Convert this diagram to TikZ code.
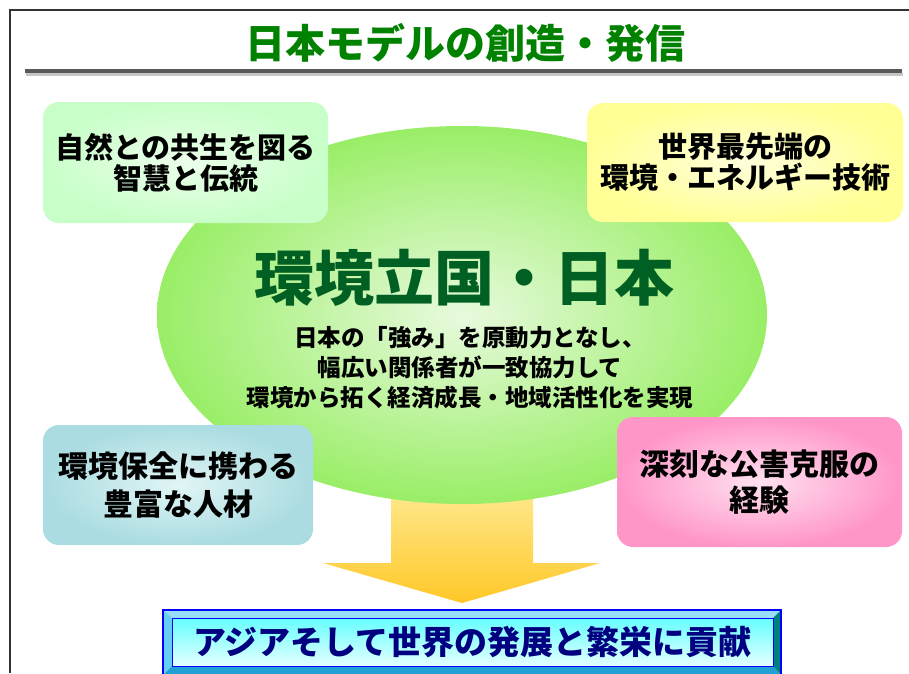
\documentclass[tikz,border=0pt]{standalone}
\usepackage{fontspec}
\setmainfont{Noto Sans CJK JP}
\usetikzlibrary{shapes}

\definecolor{titlegreen}{RGB}{0,130,0}
\definecolor{deepgreen}{RGB}{0,95,35}
\definecolor{ellgreen}{RGB}{153,238,102}
\definecolor{ellcenter}{RGB}{232,250,222}
\definecolor{leafgreen}{RGB}{200,255,200}
\definecolor{leafcenter}{RGB}{236,255,236}
\definecolor{sunyellow}{RGB}{255,255,150}
\definecolor{suncenter}{RGB}{255,255,220}
\definecolor{seablue}{RGB}{170,220,225}
\definecolor{seacenter}{RGB}{225,245,245}
\definecolor{rosepink}{RGB}{255,150,200}
\definecolor{rosecenter}{RGB}{255,225,240}
\definecolor{arrowtop}{RGB}{255,238,160}
\definecolor{arrowbot}{RGB}{255,200,40}
\definecolor{navytext}{RGB}{0,0,128}

\begin{document}
\begin{tikzpicture}[x=1pt,y=-1pt,
    box/.style={rounded corners=16pt,inner sep=0pt,align=center,
      font=\bfseries\fontsize{29}{31}\selectfont}]
  \useasboundingbox (0,0) rectangle (909,673);
  \clip (0,0) rectangle (909,673);

  % frame and title
  \draw[black!80,line width=2pt] (10,673) -- (10,10) -- (909,10);
  \node[text=titlegreen,font=\bfseries\fontsize{40}{40}\selectfont] (title) at (465,43) {日本モデルの創造・発信};
  \draw[gray!45,line width=3pt] (26,74) -- (903,74);
  \draw[black!65,line width=4pt] (25,71) -- (902,71);

  % arrow down to the goal (behind the ellipse)
  \coordinate (tip) at (462,603);
  \shade[top color=arrowtop,bottom color=arrowbot] (391,470) -- (533,470) -- (533,563)
    -- (600,563) -- (tip) -- (323,563) -- (391,563) -- cycle;

  % the ellipse
  \node[ellipse,minimum width=610pt,minimum height=378pt,inner color=ellcenter,outer color=ellgreen] (ell) at (462,315) {};
  \node[text=deepgreen,font=\bfseries\fontsize{60}{60}\selectfont] (main) at (464,278) {環境立国・日本};
  \node[align=center,font=\bfseries\fontsize{23.5}{30}\selectfont] (aim) at (470,368)
    {日本の「強み」を原動力となし、\\幅広い関係者が一致協力して\\環境から拓く経済成長・地域活性化を実現};

  % the four strengths
  \node[box,minimum width=285pt,minimum height=121pt,inner color=leafcenter,outer color=leafgreen] (wisdom) at (185.5,162.5)
    {自然との共生を図る\\智慧と伝統};
  \node[box,minimum width=316pt,minimum height=119pt,inner color=suncenter,outer color=sunyellow] (tech) at (745,162.5)
    {世界最先端の\\環境・エネルギー技術};
  \node[box,minimum width=270pt,minimum height=120pt,inner color=seacenter,outer color=seablue,
    font=\bfseries\fontsize{30}{38}\selectfont] (people) at (178,485)
    {環境保全に携わる\\豊富な人材};
  \node[box,minimum width=285pt,minimum height=130pt,inner color=rosecenter,outer color=rosepink,
    font=\bfseries\fontsize{30}{36}\selectfont] (past) at (759.5,482)
    {深刻な公害克服の\\経験};

  % goal box with bevel
  \fill[cyan!40] (163,610) -- (781,610) -- (773,618) -- (172,618) -- cycle;
  \fill[cyan!60] (163,610) -- (172,618) -- (172,666) -- (163,675) -- cycle;
  \fill[teal] (781,610) -- (773,618) -- (773,666) -- (781,675) -- cycle;
  \fill[cyan!70!teal] (172,666) -- (773,666) -- (781,675) -- (163,675) -- cycle;
  \draw[blue,line width=1.5pt] (163,610) rectangle (781,680);
  \node[draw=blue,line width=1pt,minimum width=601pt,minimum height=48pt,inner sep=0pt,
    top color=cyan!60,bottom color=cyan!10,text=navytext,font=\bfseries\fontsize{33}{33}\selectfont]
    (goal) at (472.5,642) {アジアそして世界の発展と繁栄に貢献};
\end{tikzpicture}
\end{document}
